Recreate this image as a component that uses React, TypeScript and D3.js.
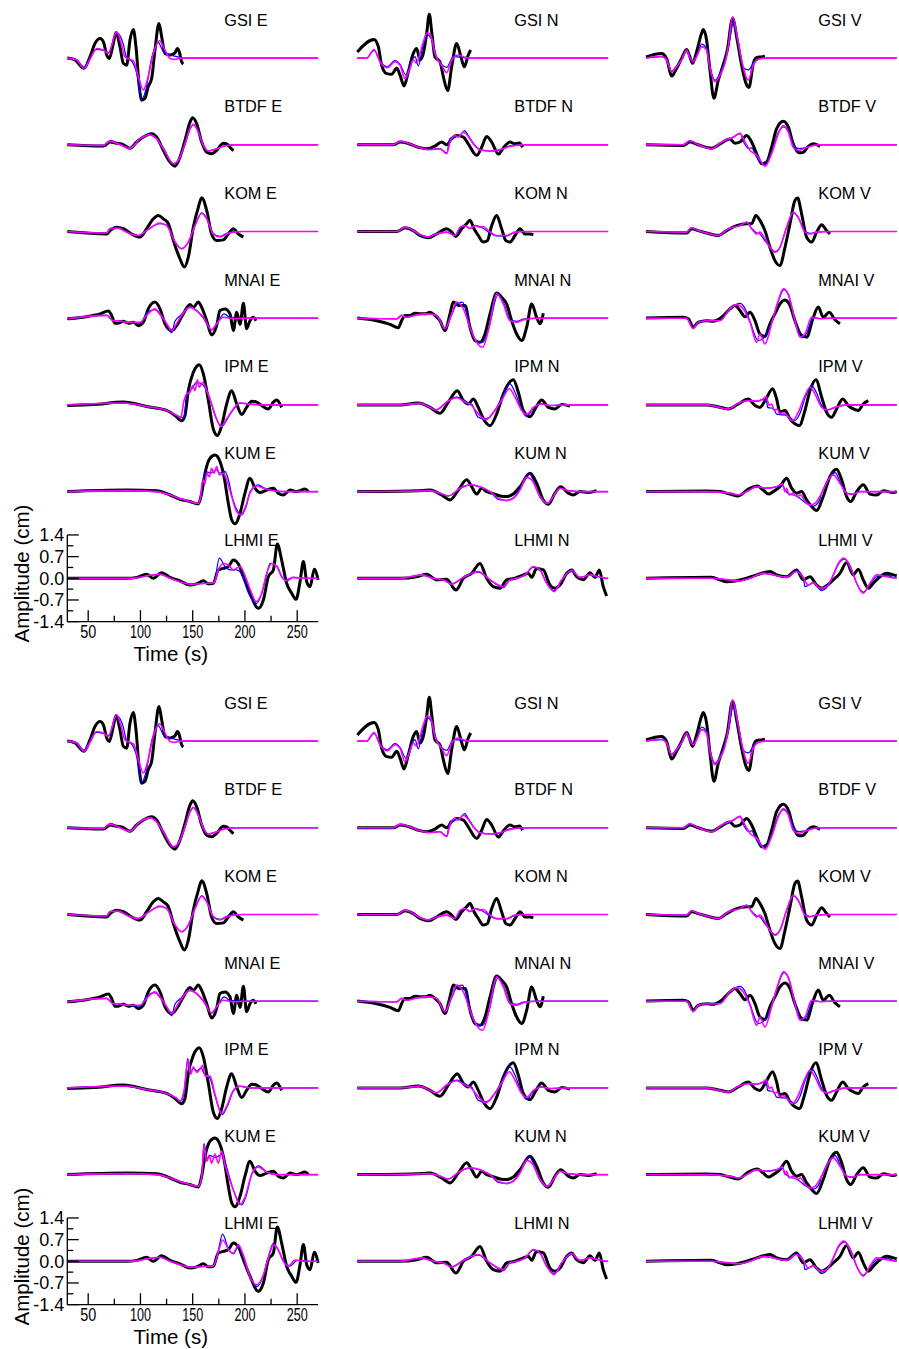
import React from "react";
import * as d3 from "d3";

// ---------- layout categories ----------
const stations = ["GSI", "BTDF", "KOM", "MNAI", "IPM", "KUM", "LHMI"];
const components = ["E", "N", "V"];
const xTicks = [50, 100, 150, 200, 250];
const xMinorTicks = [75, 125, 175, 225];
const yTicks = [1.4, 0.7, 0.0, -0.7, -1.4];
const yTickLabels = ["1.4", "0.7", "0.0", "-0.7", "-1.4"];
const yMinorTicks = [1.05, 0.35, -0.35, -1.05];

// ---------- observed (black) : [time s, amplitude cm] ----------
const GSI_E_obs = [[30,0],[37.4,-0.06],[46,-0.33],[51.7,0.04],[56.5,0.47],[61.3,0.63],[64.5,0.53],[67.7,0.1],[70.2,-0.01],[74,0.47],[76.6,0.83],[80.4,0.37],[83.6,-0.17],[86.8,-0.23],[90,0.58],[93.2,0.92],[95.7,0.37],[98.9,-0.93],[101.2,-1.36],[104.3,-1.3],[107.5,-0.92],[110.7,-0.66],[113.9,0.26],[117.7,1.12],[120.3,0.69],[123.5,0.15],[128.3,0.1],[133.1,0.17],[135.3,0.31],[137.2,0.2],[139.4,-0.12],[141,-0.19]];
const GSI_N_obs = [[30,0.2],[46,0.6],[50.1,0.37],[53.3,-0.23],[58.1,-0.5],[62.9,-0.52],[67.7,-0.33],[70.9,-0.55],[74.7,-0.9],[78.8,-0.44],[83.6,0.15],[86.8,0.31],[90,-0.06],[93.2,0.15],[96.4,0.8],[98.9,1.42],[101.2,0.85],[104.3,0.04],[109.1,-0.12],[112.3,-0.6],[116.5,-1.05],[120.3,-0.28],[125.1,0.47],[129.2,0.04],[132.4,-0.28],[136.2,0.1],[138.5,0.26]];
const GSI_V_obs = [[30,0.04],[44.9,0.15],[49.7,-0.01],[54.5,-0.58],[59.3,-0.33],[64.1,-0.01],[68.9,0.28],[71.4,0.1],[74.6,-0.17],[78.4,0.2],[83.2,0.8],[84.8,0.92],[88,0.58],[91.2,-0.39],[95,-1.3],[99.2,-0.71],[103.3,-0.28],[107.8,0.26],[112.9,1.28],[117.3,0.58],[121.5,-0.23],[126.3,-0.87],[128.5,-0.95],[132.7,-0.17],[135.9,0.02],[140.6,0.04],[143.8,0.06]];
const BTDF_E_obs = [[30,0],[64.5,-0.04],[70.9,0.09],[77.2,0.05],[82,0.03],[90,-0.11],[96.4,0.09],[102.8,0.25],[110.7,0.36],[115.5,0.25],[121.9,-0.18],[128.3,-0.56],[133.1,-0.69],[137.8,-0.4],[142.6,0.14],[147.4,0.73],[150,0.87],[153.8,0.68],[158.6,0.09],[163.4,-0.24],[168.1,-0.29],[172.9,-0.18],[179.3,0.05],[182.5,0.03],[185.7,-0.08],[188.9,-0.19]];
const BTDF_N_obs = [[30,0],[64.5,0],[70.9,0.09],[78.8,0.04],[88.4,-0.08],[96.4,-0.13],[104.3,-0.04],[110.7,0.09],[115.5,0],[120.3,0.2],[125.1,0.3],[131.5,0.25],[136.2,0.03],[144.2,-0.34],[149,-0.08],[153.8,0.27],[158.6,0.09],[165,-0.3],[169.7,-0.1],[176.1,0.09],[180.9,0.03],[185.1,0.06],[188.2,-0.08]];
const BTDF_V_obs = [[30,0],[65.7,-0.02],[72.1,0.09],[80,0],[92.8,-0.11],[100.8,0.03],[110.3,0.19],[115.1,0.05],[119.9,0.09],[126.3,0.3],[131.1,0.09],[135.9,-0.29],[140.6,-0.61],[145.4,-0.56],[150.2,-0.08],[155,0.52],[161.4,0.76],[166.2,0.57],[170.9,0.03],[176.7,-0.26],[180.5,-0.24],[185.3,-0.05],[190.1,0.03],[196.5,-0.05]];
const KOM_E_obs = [[30,0],[67.7,-0.08],[70.9,0.03],[77.2,0.14],[83.6,0.09],[91.6,-0.08],[99.6,-0.18],[105.9,0.09],[112.3,0.41],[117.1,0.52],[121.9,0.41],[126.7,0.25],[131.5,-0.29],[137.8,-0.88],[142,-1.15],[145.8,-0.83],[150.6,0.14],[155.4,0.78],[158.6,1.09],[163.4,0.68],[168.1,-0.08],[172.9,-0.29],[179.3,-0.27],[184.1,-0.08],[188.9,0.09],[193.7,-0.08],[198.5,-0.18]];
const KOM_N_obs = [[30,0],[67.7,0],[75.6,0.12],[83.6,0.03],[90,-0.13],[98,-0.2],[105.9,-0.08],[115.5,0.09],[120.3,-0.02],[124.4,-0.16],[129.9,0.09],[134.6,0.25],[137.8,0.36],[141.7,0.09],[145.8,-0.13],[150.6,-0.34],[154.4,-0.3],[158.6,0.19],[163.4,0.52],[168.1,0.09],[172.3,-0.3],[176.1,-0.34],[180.9,-0.13],[185.7,0.09],[190.5,-0.08],[195.3,-0.08],[198.5,-0.1]];
const KOM_V_obs = [[30,0],[68.9,-0.05],[73.6,0.09],[80,0.03],[88,-0.05],[99.2,-0.13],[107.1,0.03],[116.7,0.19],[126.3,0.25],[131.1,0.25],[135.2,0.52],[139,0.36],[143.8,0.03],[148.6,-0.51],[153.4,-0.94],[158.2,-1.1],[163,-0.51],[167.8,0.25],[172.5,1.0],[175.1,1.08],[178.9,0.57],[183.7,-0.18],[188.5,-0.34],[193.3,-0.02],[198.1,0.22],[202.8,0.03],[206,-0.08]];
const MNAI_E_obs = [[30,-0.02],[48.5,0.05],[61.3,0.14],[69.3,0.23],[72.4,0.09],[75.6,-0.16],[78.8,-0.16],[83.6,-0.1],[88.4,-0.16],[93.2,-0.13],[98,-0.24],[102.8,-0.13],[107.5,0.3],[113.9,0.52],[118.7,0.3],[123.5,-0.18],[129.9,-0.4],[134.6,-0.24],[141,0.14],[147.4,0.44],[150.6,0.35],[155.4,0.52],[158.6,0.35],[163.4,-0.08],[168.1,-0.54],[172.9,-0.24],[176.1,0.25],[180.9,0.3],[185.7,0.14],[188.9,-0.4],[192.1,0.19],[195.3,-0.2],[198.5,0.48],[201.6,-0.34],[204.8,-0.08],[208,0.03],[210.6,-0.08]];
const MNAI_N_obs = [[30,0.01],[48.5,-0.08],[61.3,-0.2],[69.3,-0.31],[72.4,-0.08],[75.6,0.09],[80.4,0.09],[85.2,0.16],[90,0.14],[94.8,0.14],[99.6,0.19],[104.3,0.09],[109.1,-0.08],[113.9,-0.4],[118.7,0.14],[121.9,0.52],[126.7,0.41],[133.1,0.41],[137.8,-0.29],[142.6,-0.72],[147.4,-0.78],[152.2,-0.51],[157,0.14],[163.4,0.81],[168.1,0.68],[172.9,0.46],[177.7,-0.08],[182.5,-0.51],[187.3,-0.72],[192.1,-0.29],[196.9,0.46],[201.6,0.03],[204.8,-0.18],[208,0.16]];
const MNAI_V_obs = [[30,0.01],[65.7,0.03],[70.5,-0.02],[75.2,-0.29],[80,-0.13],[88,-0.08],[94.4,-0.1],[102.4,0.03],[110.3,0.3],[115.1,0.41],[119.9,0.25],[124.7,0.05],[129.5,0.19],[134.3,-0.08],[139,-0.51],[143.8,-0.59],[148.6,-0.18],[153.4,0.14],[158.2,0.46],[163,0.59],[167.8,0.41],[172.5,-0.08],[178.9,-0.56],[183.7,-0.61],[190.1,0.03],[194.9,0.36],[199.6,0.03],[205.4,0.19],[210.8,-0.05],[215.6,-0.18]];
const IPM_E_obs = [[30,-0.02],[54.9,0.01],[83.6,0.09],[105.9,-0.05],[125.1,-0.18],[133.1,-0.34],[139.4,-0.51],[142.6,-0.34],[145.8,0.46],[150.6,1.05],[156.3,1.3],[160.2,1.0],[165,0.14],[169.7,-0.78],[173.6,-0.99],[177.7,-0.67],[182.5,0.03],[187.3,0.46],[192.1,0.03],[196.9,-0.31],[201.6,-0.08],[206.4,0.12],[211.2,0.09],[216,-0.02],[222.4,-0.13],[227.2,0.09],[230.4,0.16],[235.1,-0.08]];
const IPM_N_obs = [[30,0],[70.9,0],[88.4,0.06],[99.6,-0.08],[109.1,-0.27],[117.1,0.09],[125.7,0.46],[131.5,0.14],[136.2,0.03],[141,0.19],[145.8,-0.08],[150.6,-0.45],[157,-0.67],[163.4,-0.29],[169.7,0.35],[179.3,0.81],[184.1,0.41],[188.9,-0.18],[195.3,-0.38],[201,-0.08],[206.4,0.16],[212.8,-0.08],[219.2,-0.13],[225.6,0.01],[233.5,-0.04]];
const IPM_V_obs = [[30,0],[88,0],[97.6,-0.05],[108.7,-0.13],[118.3,0.03],[127.9,0.19],[134.3,-0.02],[139,-0.08],[144.8,0.19],[151.2,0.52],[155,0.19],[158.2,-0.24],[163,-0.18],[167.8,-0.45],[172.5,-0.61],[176.7,-0.67],[182.1,-0.18],[186.9,0.46],[192.6,0.81],[198.1,0.25],[202.8,-0.24],[207.6,-0.4],[212.4,-0.13],[218.2,0.19],[223.6,-0.02],[228.4,-0.13],[233.1,-0.18],[237.9,0.03],[242.7,0.14]];
const KUM_E_obs = [[30,0],[86.8,0.05],[115.5,0.03],[128.3,-0.11],[137.8,-0.25],[147.4,-0.32],[155.4,-0.4],[158.6,-0.05],[161.8,0.59],[166.6,1.08],[171.3,1.18],[176.1,0.97],[180,0.48],[184.1,-0.38],[187.3,-0.91],[190.5,-1.04],[195.3,-0.7],[200,-0.05],[204.8,0.43],[209.6,0.11],[214.4,-0.03],[220.8,0.05],[227.2,0.11],[231.9,-0.05],[236.7,-0.11],[243.1,0.05],[249.5,0],[257.5,0.08],[260.7,0]];
const KUM_N_obs = [[30,0],[86.8,0.03],[99.6,0.05],[110.7,-0.11],[118.7,-0.27],[126.7,0.05],[134.7,0.38],[139.4,0.16],[144.2,-0.08],[149,0.11],[153.8,0],[158.6,-0.05],[166.6,-0.14],[172.9,-0.16],[179.3,-0.08],[185.7,0.16],[195.3,0.59],[201.6,0.27],[208,-0.27],[212.8,-0.41],[219.2,-0.05],[224.6,0.16],[231.9,-0.05],[236.7,-0.11],[243.1,0],[251.1,-0.03],[259.1,0.03]];
const KUM_V_obs = [[30,0],[88,0.02],[100.8,0],[110.3,-0.08],[118.3,-0.14],[127.9,0.08],[136.5,0.18],[142.2,0.05],[147,-0.08],[151.8,0],[158.2,0.16],[164.6,0.43],[169.3,0.11],[174.1,-0.05],[178.9,0],[183.7,-0.27],[188.5,-0.48],[193.3,-0.61],[199.6,-0.16],[206,0.48],[212.4,0.72],[217.2,0.38],[222,-0.16],[225.8,-0.32],[231.6,0],[237.9,0.22],[244.3,-0.08],[250.7,-0.11],[257.1,0.03],[266.6,-0.03],[270,0]];
const LHMI_E_obs = [[30,0],[86.8,0],[96.4,0.03],[105.9,0.13],[112.3,0],[120.3,0.18],[128.3,0.03],[137.8,-0.08],[147.4,-0.22],[153.8,-0.18],[160.2,-0.08],[165,-0.18],[169.7,-0.16],[174.5,0.27],[179.3,0.32],[184.1,0.38],[188.9,0.59],[193.7,0.46],[198.5,0.05],[204.8,-0.48],[212.8,-0.97],[217.6,-0.7],[222.4,0.05],[227.2,0.27],[231,1.11],[235.1,0.59],[239.9,-0.16],[244.7,-0.48],[248.9,-0.68],[252.7,-0.11],[255.9,0.54],[259.1,-0.11],[262.3,-0.27],[266.4,0.29],[270,-0.05]];
const LHMI_N_obs = [[30,0],[70.9,0],[86.8,0.05],[96.4,0.13],[105.9,-0.05],[115.5,-0.03],[124.4,-0.38],[131.5,0],[139.4,0.16],[147.4,0.48],[153.8,0],[160.2,-0.27],[166.6,-0.32],[172.9,-0.05],[180.9,0],[188.9,0.11],[193.7,0.16],[196.9,0.03],[201.6,0.32],[208,0.27],[214.4,-0.22],[219.2,-0.32],[224,-0.22],[230.4,0.16],[235.1,0.27],[239.9,0.05],[246.3,-0.05],[252.7,0.18],[257.5,0.03],[261.6,0.27],[265.4,-0.27],[268.6,-0.57]];
const LHMI_V_obs = [[30,0],[92.8,0.03],[100.8,-0.05],[107.1,-0.11],[116.7,-0.08],[126.3,0],[135.9,0.11],[148.6,0.22],[155,0.11],[164.6,0.05],[174.1,0.27],[180.5,-0.05],[186.9,0.05],[193.3,-0.22],[198.1,-0.32],[202.8,-0.24],[209.2,-0.05],[215.6,0.16],[222,0.51],[228.4,0.11],[233.1,0.29],[237.9,-0.05],[242.7,-0.32],[247.5,-0.16],[253.9,0.05],[260.3,0.16],[266.6,0.11],[270,0.08]];

// ---------- synthetic 1 (blue) ----------
const GSI_E_blue = [[30,0],[39,-0.05],[46,-0.3],[51.7,0],[58.1,0.28],[64.5,0.25],[69.3,0.18],[77.2,0.82],[83.6,0.45],[86.8,0],[91.6,-0.1],[96.4,-0.5],[101.2,-1.33],[105.3,-1.0],[110.7,0],[117.1,0.5],[121.9,0.2],[128.3,0.1],[134.6,0.05],[141,0],[270,0]];
const GSI_N_blue = [[30,0],[39,0],[46,0.25],[51.7,-0.1],[58.7,-0.28],[66.1,-0.08],[70.9,-0.2],[76.6,-0.55],[82,-0.1],[85.2,0.05],[88.4,-0.25],[92.5,0.35],[97,0.75],[101.2,0.6],[105.9,0.05],[115.5,-0.3],[121.9,0.05],[128.3,0.03],[137.8,0],[270,0]];
const GSI_V_blue = [[30,0],[44.9,0.05],[49.7,-0.05],[54.5,-0.42],[59.3,-0.25],[64.1,-0.05],[68.9,0.24],[72.1,0.05],[75.2,-0.1],[79.1,0.1],[83.2,0.45],[88,0.3],[91.8,-0.35],[96,-0.72],[100.8,-0.5],[105.5,-0.1],[109.7,0.5],[113.5,1.12],[118.3,0.5],[123.1,-0.3],[127.9,-0.38],[134.2,-0.1],[143.8,0],[270,0]];
const BTDF_E_blue = [[30,0],[64.5,-0.03],[71.5,0.14],[78.8,0.03],[90,-0.1],[99.6,0.2],[109.1,0.33],[115.5,0.2],[121.9,-0.1],[131.5,-0.62],[136.2,-0.5],[142.6,0],[147.4,0.5],[150.6,0.65],[155.4,0.42],[160.2,0],[164.9,-0.2],[172.9,-0.12],[182,-0.02],[190,0],[270,0]];
const BTDF_N_blue = [[30,0],[64.5,0],[70.9,0.1],[78.8,0.05],[88.4,-0.08],[99.6,-0.15],[109.1,-0.12],[115.5,-0.27],[118.7,0.2],[123.5,0.25],[128.3,0.3],[132.7,0.46],[136.2,0.3],[141,0.05],[147.4,-0.15],[157,-0.2],[166.5,-0.17],[176.1,-0.03],[188.9,0],[270,0]];
const BTDF_V_blue = [[30,0],[65.7,0],[72.1,0.12],[80,0],[92.8,-0.12],[102.4,0.08],[113.5,0.24],[119.9,0.38],[124,0.05],[128,-0.12],[131,-0.1],[135.9,-0.4],[140.6,-0.6],[143.8,-0.65],[150.2,-0.25],[156.6,0.4],[161.4,0.58],[166.2,0.45],[170.9,0],[176,-0.12],[182,-0.1],[190.1,-0.02],[196.5,0],[270,0]];
const KOM_E_blue = [[30,0],[67.7,-0.05],[70.9,0.1],[78.8,0.1],[86.8,-0.02],[98,-0.13],[105.9,0.03],[118.7,0.25],[125.1,0.2],[131,-0.2],[134,-0.38],[139.4,-0.55],[145.8,-0.34],[152.2,0.19],[158.6,0.6],[163.4,0.42],[169.7,-0.06],[176.1,-0.16],[182.5,-0.06],[190,0],[270,0]];
const KOM_N_blue = [[30,0],[67.7,0],[75.6,0.13],[83.6,0.03],[90,-0.1],[98,-0.18],[105.9,-0.08],[115.5,-0.02],[123.5,-0.12],[128.3,0.1],[133.1,0.2],[137.8,0.1],[142.6,0.2],[150.6,0.1],[157,-0.05],[163.4,-0.14],[172.9,-0.14],[180.9,-0.03],[188.9,0],[270,0]];
const KOM_V_blue = [[30,0],[68.9,-0.02],[73.6,0.12],[80,0.03],[88,-0.05],[99.2,-0.13],[108.7,0.09],[119.9,0.2],[126.3,0.3],[131.1,0.1],[135.9,-0.05],[139,-0.08],[143.8,-0.3],[148.6,-0.5],[153.4,-0.65],[158.2,-0.5],[164.6,0.14],[170.9,0.6],[175.7,0.45],[182.1,0],[186.9,-0.06],[193.3,-0.02],[206,0],[270,0]];
const MNAI_E_blue = [[30,-0.02],[67.7,0.09],[74,-0.08],[78.8,-0.08],[86.8,-0.13],[99.6,-0.16],[106.9,0.2],[113.9,0.28],[118.7,0.12],[125.1,-0.18],[129.9,-0.47],[133,-0.1],[139.4,0.12],[147.4,0.37],[153.8,0.25],[160.2,0],[168.1,-0.38],[174.5,-0.1],[180,0.14],[186,0.02],[201.6,0],[270,0]];
const MNAI_N_blue = [[30,0],[67.7,-0.02],[72.4,0.09],[77.2,0.03],[86.8,0.11],[98,0.14],[105.9,0.09],[113.9,-0.34],[120.3,0.1],[125.1,0.45],[130.5,0.52],[134.5,0.2],[137.8,-0.29],[144.2,-0.74],[150,-0.78],[155.4,-0.38],[164.6,0.75],[170.5,0.45],[176.1,-0.05],[182.5,-0.1],[188.9,-0.03],[201.6,0],[270,0]];
const MNAI_V_blue = [[30,0],[68.9,0],[75.2,-0.32],[80,-0.15],[88,-0.08],[100.8,-0.06],[110.3,0.3],[119.9,0.48],[125,0.3],[129.5,-0.1],[137.4,-0.72],[142.2,-0.66],[150.2,-0.15],[156.6,0.55],[162,0.92],[166.2,0.75],[172.5,-0.05],[179,-0.63],[183.5,-0.5],[190,0.02],[196.5,-0.01],[206,0],[270,0]];
const IPM_E_blue = [[30,0],[83.6,0.06],[105.9,-0.05],[125.1,-0.18],[134.7,-0.34],[141.7,-0.42],[144.2,0.35],[149,0.52],[153.8,0.73],[158.6,0.68],[164.9,0.35],[172,-0.4],[177.7,-0.7],[184,-0.4],[190,-0.1],[195.3,0.06],[204.8,0.03],[214.4,0],[270,0]];
const IPM_N_blue = [[30,0],[70.9,0],[90,0.05],[105.9,-0.15],[115.5,0.09],[125.1,0.25],[133.1,0.12],[139.4,0.02],[145.8,-0.4],[150.6,-0.45],[156,-0.42],[160.2,-0.25],[168.1,0.2],[176.1,0.68],[181,0.4],[187.3,-0.15],[192.1,-0.38],[198.5,-0.1],[206.4,0.03],[214.4,-0.02],[233.5,0],[270,0]];
const IPM_V_blue = [[30,0],[88,0],[108.7,-0.13],[118.3,0.05],[127.9,0.14],[135.9,0.12],[142.2,0.18],[145.4,0.1],[146.4,-0.08],[152,-0.12],[155,-0.3],[160,-0.32],[164.6,-0.34],[172.5,-0.5],[177,-0.3],[183,0.3],[188.5,0.62],[193,0.4],[198.1,-0.02],[202.8,-0.18],[210.8,-0.08],[222,0],[270,0]];
const KUM_E_blue = [[30,0],[86.8,0.03],[115.5,0],[128.3,-0.11],[137.8,-0.22],[147.4,-0.32],[155.4,-0.38],[158,-0.1],[160,0.4],[163.4,0.64],[167,0.6],[172.9,0.7],[176,0.6],[180.9,0.65],[184,0.4],[188,-0.2],[192.5,-0.6],[196.9,-0.75],[201,-0.5],[205,0],[212.8,0.22],[218,0.12],[227.2,0.03],[240,0],[270,0]];
const KUM_N_blue = [[30,0],[86.8,0.02],[99.6,0.03],[109.1,-0.05],[117.1,-0.14],[128.3,0.1],[137.8,0.22],[147.4,0.15],[157,0],[165,-0.25],[172.9,-0.28],[179.3,-0.2],[185.7,0.08],[194.6,0.59],[198,0.4],[204.8,-0.18],[211.8,-0.38],[217.6,-0.15],[223.9,0.1],[231.9,0.03],[246.3,0],[270,0]];
const KUM_V_blue = [[30,0],[88,0],[110.3,-0.05],[118.3,-0.11],[127.9,0.03],[135.9,0.16],[145.4,0.11],[155,0.16],[160.7,0.2],[163,0.05],[167.1,-0.08],[174.1,-0.14],[182.1,-0.35],[190,-0.47],[195,-0.35],[198.1,-0.05],[204.4,0.4],[211,0.61],[216,0.3],[222,-0.05],[228.4,-0.08],[234.7,0],[270,0]];
const LHMI_E_blue = [[30,0],[86.8,0],[99.6,0.03],[105.9,0.08],[118.7,0.13],[128.3,0],[137.8,-0.11],[147.4,-0.19],[163.4,-0.16],[170.4,-0.14],[175.5,0.65],[181,0.38],[185.7,0.27],[192,0.27],[198,0.05],[203,-0.45],[211.2,-0.81],[216,-0.5],[221,0.15],[224,0.48],[230.4,0.4],[236,0.02],[240,-0.05],[246,0.03],[256,0],[270,0]];
const LHMI_N_blue = [[30,0],[70.9,0],[91.6,0.1],[102.8,0],[112.3,-0.05],[120.3,-0.18],[131.5,0.03],[145.8,0.2],[157,-0.05],[169.7,-0.3],[176.1,-0.05],[185.7,0.03],[190.5,0.1],[198.5,0.36],[204.8,0.27],[211.2,-0.16],[218.2,-0.4],[225.6,-0.05],[235.1,0.22],[243.1,0.03],[252.7,0.1],[260.7,0.05],[268.6,0],[270,0]];
const LHMI_V_blue = [[30,0],[92.8,0],[104,-0.03],[119.9,-0.08],[129.5,0],[142.2,0.16],[151.8,0.11],[164.6,0.03],[174.1,0.25],[180.5,0.03],[182.1,-0.27],[190,-0.15],[198.1,-0.4],[202.8,-0.3],[209.2,0.1],[214,0.45],[220,0.62],[226,0.36],[231.6,-0.16],[237.9,-0.45],[244.3,-0.2],[250.7,0.05],[260.3,0.1],[266,0.03],[270,0]];

// ---------- synthetic 2 (magenta) ----------
const GSI_E_mag = [[30,0],[39,-0.06],[46,-0.33],[51.7,-0.04],[58.1,0.31],[64.5,0.26],[69.3,0.15],[77.2,0.85],[82,0.42],[85.2,0.04],[90,-0.04],[93.2,-0.09],[98,-0.6],[102.8,-1.03],[106.6,-0.71],[112.3,0.15],[118.1,0.56],[123.5,0.26],[128.3,-0.01],[133.1,-0.04],[137.8,0],[270,0]];
const GSI_N_mag = [[30,0],[39,0],[46,0.28],[51.7,-0.12],[58.7,-0.31],[66.1,-0.12],[70.9,-0.23],[75.6,-0.66],[80.4,-0.33],[83.6,-0.06],[86.8,-0.17],[90,0.15],[93.2,0.53],[97,0.82],[100.2,0.74],[104.3,0.15],[110.7,-0.23],[115.5,-0.47],[120.3,-0.06],[126.7,0.1],[131.5,0.04],[137.8,0],[270,0]];
const GSI_V_mag = [[30,0],[44.9,0.06],[49.7,-0.06],[54.5,-0.44],[59.3,-0.28],[64.1,-0.06],[68.9,0.26],[71.4,0.06],[75.2,-0.12],[79.1,0.1],[83.2,0.37],[88,0.26],[91.2,-0.33],[96,-0.76],[100.8,-0.55],[105.5,-0.17],[108.7,0.37],[112.9,1.33],[117.3,0.69],[121.5,-0.06],[127.9,-0.71],[132.7,-0.23],[137.4,-0.04],[143.8,0],[270,0]];
const BTDF_E_mag = [[30,0],[64.5,-0.02],[70.9,0.12],[78.8,0.03],[90,-0.11],[99.6,0.19],[109.1,0.32],[115.5,0.19],[121.9,-0.13],[131.5,-0.61],[136.2,-0.5],[142.6,0.03],[147.4,0.52],[150.6,0.66],[155.4,0.41],[160.2,-0.02],[164.9,-0.2],[172.9,-0.13],[179.3,-0.05],[188.9,0],[270,0]];
const BTDF_N_mag = [[30,0],[64.5,0],[70.9,0.12],[78.8,0.05],[88.4,-0.08],[99.6,-0.16],[109.1,-0.13],[115.5,-0.29],[118.7,0.09],[123.5,0.3],[126.7,0.25],[131.5,0.41],[136.2,0.27],[141,0.03],[147.4,-0.16],[157,-0.2],[166.5,-0.16],[176.1,-0.05],[188.9,0],[270,0]];
const BTDF_V_mag = [[30,0],[65.7,0],[72.1,0.14],[80,0],[92.8,-0.13],[102.4,0.09],[113.5,0.25],[119.9,0.36],[124.7,0.09],[129.5,-0.18],[135.9,-0.34],[140.6,-0.56],[143.8,-0.7],[150.2,-0.29],[156.6,0.35],[161.4,0.62],[166.2,0.41],[170.9,-0.08],[175.7,-0.18],[180.5,-0.13],[190.1,-0.02],[196.5,0],[270,0]];
const KOM_E_mag = [[30,0],[67.7,-0.05],[70.9,0.09],[78.8,0.11],[86.8,-0.02],[98,-0.13],[105.9,0.03],[118.7,0.27],[125.1,0.19],[133.1,-0.34],[139.4,-0.56],[145.8,-0.34],[152.2,0.19],[158.6,0.59],[163.4,0.41],[169.7,-0.08],[176.1,-0.18],[182.5,-0.08],[188.9,-0.02],[198.5,0],[270,0]];
const KOM_N_mag = [[30,0],[67.7,0],[75.6,0.14],[83.6,0.03],[90,-0.1],[98,-0.18],[105.9,-0.08],[115.5,-0.02],[123.5,-0.13],[128.3,0.14],[133.1,0.19],[137.8,0.09],[142.6,0.19],[147.4,0.14],[150.6,0.16],[155.4,0.03],[163.4,-0.13],[172.9,-0.13],[180.9,-0.02],[188.9,0],[270,0]];
const KOM_V_mag = [[30,0],[68.9,-0.02],[73.6,0.12],[80,0.03],[88,-0.05],[99.2,-0.13],[108.7,0.09],[119.9,0.19],[126.3,0.3],[131.1,0.09],[135.9,-0.08],[139,-0.02],[143.8,-0.24],[148.6,-0.51],[153.4,-0.67],[158.2,-0.51],[164.6,0.14],[170.9,0.62],[175.7,0.46],[182.1,-0.02],[186.9,-0.08],[193.3,-0.02],[206,0],[270,0]];
const MNAI_E_mag = [[30,-0.02],[67.7,0.09],[74,-0.08],[78.8,-0.08],[86.8,-0.13],[99.6,-0.13],[105.9,0.09],[113.9,0.3],[118.7,0.14],[125.1,-0.18],[129.9,-0.4],[134.6,-0.18],[139.4,0.09],[147.4,0.35],[153.8,0.24],[160.2,0.03],[168.1,-0.38],[172.9,-0.18],[179.3,0.03],[188.9,-0.02],[201.6,0],[270,0]];
const MNAI_N_mag = [[30,0],[67.7,-0.02],[72.4,0.09],[77.2,0.03],[86.8,0.11],[98,0.14],[105.9,0.09],[113.9,-0.34],[120.3,0.14],[125.1,0.52],[131.5,0.3],[137.8,-0.29],[144.2,-0.78],[150,-0.94],[155.4,-0.4],[163.4,0.79],[169.7,0.46],[176.1,-0.08],[182.5,-0.13],[188.9,-0.05],[201.6,0],[270,0]];
const MNAI_V_mag = [[30,0],[68.9,0],[75.2,-0.34],[80,-0.13],[88,-0.08],[100.8,-0.08],[110.3,0.3],[116.7,0.44],[123.1,0.3],[129.5,-0.13],[135.9,-0.78],[139,-0.51],[143.8,-0.83],[150.2,-0.18],[156.6,0.57],[161.4,0.95],[166.2,0.78],[172.5,-0.08],[177.3,-0.61],[182.1,-0.51],[188.5,0.03],[196.5,-0.02],[206,0],[270,0]];
const IPM_E_mag = [[30,0],[83.6,0.06],[105.9,-0.05],[125.1,-0.18],[134.7,-0.34],[138.5,-0.42],[141.7,0.14],[144.2,0.35],[147.4,0.41],[150,0.62],[152.2,0.46],[154.4,0.81],[156.3,0.57],[159.5,0.73],[163.4,0.46],[168.1,0.03],[172.9,-0.45],[177.1,-0.7],[182.5,-0.45],[188.9,-0.13],[195.3,0.06],[204.8,0.03],[214.4,0],[270,0]];
const IPM_N_mag = [[30,0],[70.9,0],[90,0.05],[105.9,-0.16],[115.5,0.09],[125.1,0.23],[133.1,0.09],[139.4,-0.02],[145.8,-0.29],[153.2,-0.48],[160.2,-0.24],[168.1,0.14],[175.5,0.52],[180.9,0.25],[187.3,-0.18],[192.1,-0.31],[198.5,-0.08],[206.4,0.03],[214.4,-0.02],[233.5,0],[270,0]];
const IPM_V_mag = [[30,0],[88,0],[108.7,-0.13],[118.3,0.05],[127.9,0.14],[135.9,0.12],[142.2,0.19],[144.8,0.27],[148,-0.02],[150.2,0.03],[152.8,-0.18],[155.6,-0.13],[158.2,-0.29],[160.7,-0.24],[164.6,-0.34],[170.3,-0.51],[175.7,-0.24],[182.1,0.3],[186.9,0.57],[191.7,0.35],[198.1,-0.08],[202.8,-0.16],[210.8,-0.08],[222,0],[270,0]];
const KUM_E_mag = [[30,0],[86.8,0.03],[115.5,0],[128.3,-0.11],[137.8,-0.22],[147.4,-0.32],[155.4,-0.38],[157.6,-0.16],[159.5,0.38],[161.8,0.27],[163.4,0.59],[165.9,0.48],[168.1,0.75],[170.4,0.59],[172.9,0.81],[175.5,0.54],[179.3,0.59],[182.5,0.38],[187.3,-0.16],[192.1,-0.65],[195.9,-0.75],[200,-0.54],[204.8,-0.05],[211.2,0.18],[217.6,0.11],[227.2,0.03],[239.9,0],[270,0]];
const KUM_N_mag = [[30,0],[86.8,0.02],[99.6,0.03],[109.1,-0.05],[117.1,-0.14],[128.3,0.11],[137.8,0.22],[147.4,0.16],[157,0],[165,-0.22],[172.9,-0.29],[179.3,-0.22],[185.7,0.05],[192.1,0.46],[196.9,0.38],[204.8,-0.16],[211.8,-0.38],[217.6,-0.16],[223.9,0.11],[231.9,0.03],[246.3,0],[270,0]];
const KUM_V_mag = [[30,0],[88,0],[110.3,-0.05],[118.3,-0.11],[127.9,0.03],[135.9,0.16],[145.4,0.11],[155,0.16],[160.7,0.25],[163,0],[164.6,0.11],[167.1,-0.11],[170.9,-0.05],[174.1,-0.16],[178,-0.11],[182.1,-0.32],[186.9,-0.43],[191.7,-0.38],[198.1,-0.05],[204.4,0.38],[209.2,0.54],[215.6,0.27],[222,-0.05],[228.4,-0.08],[234.7,0],[270,0]];
const LHMI_E_mag = [[30,0],[86.8,0],[99.6,0.03],[105.9,0.08],[118.7,0.13],[128.3,0],[137.8,-0.11],[147.4,-0.19],[163.4,-0.16],[170.4,-0.14],[174.5,0.27],[179.3,0.48],[184.1,0.43],[188.9,0.27],[195.3,0.38],[201.6,-0.05],[206.4,-0.48],[210.6,-0.75],[216,-0.48],[220.8,0.16],[225.6,0.48],[230.4,0.38],[235.1,0.05],[239.9,-0.08],[246.3,0.03],[255.9,0],[270,0]];
const LHMI_N_mag = [[30,0],[70.9,0],[91.6,0.11],[102.8,0],[112.3,-0.05],[120.3,-0.19],[131.5,0.03],[145.8,0.22],[157,-0.05],[169.7,-0.27],[176.1,-0.05],[185.7,0.03],[190.5,0.11],[198.5,0.38],[204.8,0.27],[211.2,-0.16],[218.2,-0.43],[225.6,-0.05],[235.1,0.25],[243.1,0.03],[252.7,0.11],[260.7,0.05],[268.6,0],[270,0]];
const LHMI_V_mag = [[30,0],[92.8,0],[104,-0.03],[119.9,-0.08],[129.5,0],[142.2,0.16],[151.8,0.11],[164.6,0.03],[174.1,0.22],[180.5,0.03],[185.3,-0.22],[190.1,-0.14],[196.5,-0.32],[202.8,-0.27],[209.2,0.11],[214,0.48],[219.4,0.65],[225.2,0.38],[231.6,-0.16],[237.9,-0.48],[244.3,-0.16],[250.7,0.11],[260.3,0.05],[270,0]];

// ---------- lower figure: synthetics that differ from the upper figure ----------
const IPM_E_blue_2 = [[30,0],[83.6,0.06],[105.9,-0.05],[125.1,-0.18],[134.7,-0.34],[138.5,-0.43],[142,-0.1],[145.2,0.95],[147.5,0.5],[150.6,0.62],[154,0.55],[158,0.65],[161,0.45],[166,0.35],[171.3,-0.25],[178.3,-0.86],[183,-0.6],[189,-0.1],[195.3,0.05],[204.8,0],[270,0]];
const IPM_E_mag_2 = [[30,0],[83.6,0.06],[105.9,-0.05],[125.1,-0.18],[134.7,-0.34],[137.8,-0.43],[141.7,-0.08],[145.8,0.9],[148,0.44],[150.6,0.67],[153.8,0.5],[157,0.61],[159.5,0.73],[161.8,0.38],[166.6,0.38],[171.3,-0.2],[177.7,-0.83],[182.5,-0.6],[188.9,-0.08],[195.3,0.06],[204.8,0],[270,0]];
const KUM_E_blue_2 = [[30,0],[86.8,0.03],[115.5,0],[128.3,-0.11],[137.8,-0.22],[147.4,-0.32],[155.4,-0.38],[158.6,-0.05],[160.8,1.0],[163.8,0.5],[165.9,0.62],[172,0.55],[177.7,0.65],[181,0.4],[184.1,0.05],[189,-0.5],[196.9,-0.98],[201,-0.7],[206.4,0],[213,0.28],[221,0.08],[230.4,0],[270,0]];
const KUM_E_mag_2 = [[30,0],[86.8,0.03],[115.5,0],[128.3,-0.11],[137.8,-0.22],[147.4,-0.32],[155.4,-0.38],[158.6,-0.09],[160.8,0.95],[163.4,0.43],[165.9,0.6],[168.1,0.37],[171.3,0.66],[174.5,0.37],[177.7,0.77],[180.9,0.31],[184.1,-0.03],[188.9,-0.5],[195.3,-0.96],[200,-0.73],[206.4,0],[212.8,0.25],[220.8,0.08],[230.4,0],[270,0]];
const LHMI_E_blue_2 = [[30,0],[86.8,0],[99.6,0.03],[105.9,0.08],[118.7,0.13],[128.3,0],[137.8,-0.11],[147.4,-0.19],[163.4,-0.16],[170,-0.15],[174.5,0.35],[178.6,0.88],[184,0.42],[188.9,0.24],[193.7,0.47],[198.5,0.15],[204.8,-0.5],[211.2,-0.82],[217.6,-0.45],[222.4,0.15],[227.2,0.58],[232,0.35],[236.8,0.02],[243.3,-0.15],[250,0.03],[259.1,0],[270,0]];
const LHMI_E_mag_2 = [[30,0],[86.8,0],[99.6,0.03],[105.9,0.08],[118.7,0.13],[128.3,0],[137.8,-0.11],[147.4,-0.19],[163.4,-0.16],[169.7,-0.15],[174.5,0.3],[178.6,0.69],[185.7,0.31],[188.9,0.26],[193.7,0.53],[198.5,0.2],[204.8,-0.5],[211.2,-0.76],[217.6,-0.44],[222.4,0.1],[227.2,0.53],[232,0.37],[236.8,-0.01],[241.6,-0.15],[248,0.04],[259.1,0],[270,0]];

// lookup tables built from the named arrays
const OBS: Record<string, number[][]> = {
  GSI_E: GSI_E_obs, GSI_N: GSI_N_obs, GSI_V: GSI_V_obs,
  BTDF_E: BTDF_E_obs, BTDF_N: BTDF_N_obs, BTDF_V: BTDF_V_obs,
  KOM_E: KOM_E_obs, KOM_N: KOM_N_obs, KOM_V: KOM_V_obs,
  MNAI_E: MNAI_E_obs, MNAI_N: MNAI_N_obs, MNAI_V: MNAI_V_obs,
  IPM_E: IPM_E_obs, IPM_N: IPM_N_obs, IPM_V: IPM_V_obs,
  KUM_E: KUM_E_obs, KUM_N: KUM_N_obs, KUM_V: KUM_V_obs,
  LHMI_E: LHMI_E_obs, LHMI_N: LHMI_N_obs, LHMI_V: LHMI_V_obs,
};
const BLUE: Record<string, number[][]> = {
  GSI_E: GSI_E_blue, GSI_N: GSI_N_blue, GSI_V: GSI_V_blue,
  BTDF_E: BTDF_E_blue, BTDF_N: BTDF_N_blue, BTDF_V: BTDF_V_blue,
  KOM_E: KOM_E_blue, KOM_N: KOM_N_blue, KOM_V: KOM_V_blue,
  MNAI_E: MNAI_E_blue, MNAI_N: MNAI_N_blue, MNAI_V: MNAI_V_blue,
  IPM_E: IPM_E_blue, IPM_N: IPM_N_blue, IPM_V: IPM_V_blue,
  KUM_E: KUM_E_blue, KUM_N: KUM_N_blue, KUM_V: KUM_V_blue,
  LHMI_E: LHMI_E_blue, LHMI_N: LHMI_N_blue, LHMI_V: LHMI_V_blue,
};
const MAG: Record<string, number[][]> = {
  GSI_E: GSI_E_mag, GSI_N: GSI_N_mag, GSI_V: GSI_V_mag,
  BTDF_E: BTDF_E_mag, BTDF_N: BTDF_N_mag, BTDF_V: BTDF_V_mag,
  KOM_E: KOM_E_mag, KOM_N: KOM_N_mag, KOM_V: KOM_V_mag,
  MNAI_E: MNAI_E_mag, MNAI_N: MNAI_N_mag, MNAI_V: MNAI_V_mag,
  IPM_E: IPM_E_mag, IPM_N: IPM_N_mag, IPM_V: IPM_V_mag,
  KUM_E: KUM_E_mag, KUM_N: KUM_N_mag, KUM_V: KUM_V_mag,
  LHMI_E: LHMI_E_mag, LHMI_N: LHMI_N_mag, LHMI_V: LHMI_V_mag,
};
const BLUE_2: Record<string, number[][]> = { ...BLUE, IPM_E: IPM_E_blue_2, KUM_E: KUM_E_blue_2, LHMI_E: LHMI_E_blue_2 };
const MAG_2: Record<string, number[][]> = { ...MAG, IPM_E: IPM_E_mag_2, KUM_E: KUM_E_mag_2, LHMI_E: LHMI_E_mag_2 };
const BLOCK_BLUE = [BLUE, BLUE_2];
const BLOCK_MAG = [MAG, MAG_2];

// ---------- geometry ----------
const W = 899;
const H = 1349;
const colLeft = [67.3, 357.3, 646];
const colLabelX = [224.3, 514.3, 818.3];
const firstBaseline = 58.1;
const rowStep = 86.7;
const blockOffset = [0, 683];
const FONT = "'Liberation Sans', Arial, Helvetica, sans-serif";

function Panel({ key2, col, base, block }: { key2: string; col: number; base: number; block: number }) {
  const x = d3.scaleLinear().domain([30, 270]).range([colLeft[col], colLeft[col] + 250.8]);
  const y = d3.scaleLinear().domain([-1.4, 1.4]).range([base + 43.35, base - 43.35]);
  const line = d3
    .line<number[]>()
    .x((d) => x(d[0]))
    .y((d) => y(d[1]))
    .curve(d3.curveMonotoneX);
  return (
    <g>
      <path d={line(OBS[key2]) || ""} fill="none" stroke="#000" strokeWidth={3} strokeLinejoin="round" />
      <path d={line(BLOCK_BLUE[block][key2]) || ""} fill="none" stroke="#0000ff" strokeWidth={1.2} />
      <path d={line(BLOCK_MAG[block][key2]) || ""} fill="none" stroke="#ff00ff" strokeWidth={1.6} />
    </g>
  );
}

function Axes({ base }: { base: number }) {
  const x = d3.scaleLinear().domain([30, 270]).range([colLeft[0], colLeft[0] + 250.8]);
  const y = d3.scaleLinear().domain([-1.4, 1.4]).range([base + 43.35, base - 43.35]);
  const yb = y(-1.4);
  return (
    <g fontFamily={FONT} fill="#000">
      <line x1={x(30)} x2={x(30)} y1={y(1.4)} y2={yb} stroke="#000" strokeWidth={1.3} />
      <line x1={x(30)} x2={x(270)} y1={yb} y2={yb} stroke="#000" strokeWidth={1.3} />
      {yTicks.map((v, i) => (
        <g key={"yt" + i}>
          <line x1={x(30)} x2={x(30) + 11.5} y1={y(v)} y2={y(v)} stroke="#000" strokeWidth={1.3} />
          <text x={x(30) - 3} y={y(v) + 6.5} textAnchor="end" fontSize={18}>
            {yTickLabels[i]}
          </text>
        </g>
      ))}
      {yMinorTicks.map((v, i) => (
        <line key={"ym" + i} x1={x(30)} x2={x(30) + 6} y1={y(v)} y2={y(v)} stroke="#000" strokeWidth={1.3} />
      ))}
      {xTicks.map((v, i) => (
        <g key={"xt" + i}>
          <line x1={x(v)} x2={x(v)} y1={yb} y2={yb - 11.5} stroke="#000" strokeWidth={1.3} />
          <text x={x(v)} y={yb + 16} textAnchor="middle" fontSize={17.5} textLength={v < 100 ? 16 : 21} lengthAdjust="spacingAndGlyphs">
            {String(v)}
          </text>
        </g>
      ))}
      {xMinorTicks.map((v, i) => (
        <line key={"xm" + i} x1={x(v)} x2={x(v)} y1={yb} y2={yb - 6} stroke="#000" strokeWidth={1.3} />
      ))}
      <text x={170.8} y={yb + 39.5} textAnchor="middle" fontSize={20.5}>
        Time (s)
      </text>
      <text transform={`translate(28.5, ${base - 4.8}) rotate(-90)`} textAnchor="middle" fontSize={20.5}>
        Amplitude (cm)
      </text>
    </g>
  );
}

export default function App() {
  return (
    <svg width={W} height={H} style={{ position: "absolute", left: 0, top: 0, background: "#fff" }}>
      <rect x={0} y={0} width={W} height={H} fill="#fff" />
      {blockOffset.map((off, b) => (
        <g key={"b" + b}>
          {stations.map((s, r) => {
            const base = firstBaseline + off + r * rowStep;
            return components.map((c, ci) => (
              <g key={s + c}>
                <text x={colLabelX[ci]} y={base - 32.5} fontFamily={FONT} fontSize={16.3} fill="#000">
                  {s + " " + c}
                </text>
                <Panel key2={s + "_" + c} col={ci} base={base} block={b} />
              </g>
            ));
          })}
          <Axes base={firstBaseline + off + 6 * rowStep} />
        </g>
      ))}
    </svg>
  );
}
